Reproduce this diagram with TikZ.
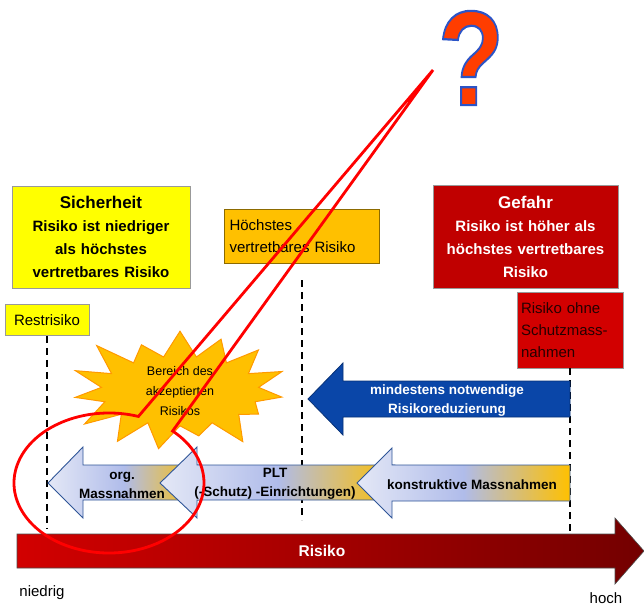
\documentclass[tikz,border=0pt]{standalone}
\usepackage{fontspec}
\setmainfont{Liberation Sans}
\usepackage{tikz}
\usetikzlibrary{positioning,calc,shapes.symbols,shapes.callouts}
\definecolor{safeyellow}{HTML}{FFFF00}
\definecolor{limitorange}{HTML}{FFC000}
\definecolor{dangerred}{HTML}{C00000}
\definecolor{plainred}{HTML}{D20000}
\definecolor{reduceblue}{HTML}{0A46A8}
\definecolor{arrowblue}{HTML}{2F5597}
\definecolor{paleblue}{HTML}{E4E8F6}
\definecolor{midblue}{HTML}{B0BCEA}
\definecolor{qorange}{HTML}{FF3D00}
\tikzset{
    every node/.style={font=\fontsize{15}{22}\selectfont},
    infobox/.style={draw=gray!80, line width=0.7pt, inner sep=0pt},
    safebox/.style={infobox, fill=safeyellow, align=center, text width=178pt, minimum height=102pt, font=\bfseries\fontsize{15}{23}\selectfont},
    limitbox/.style={infobox, draw=black!45!limitorange, fill=limitorange, align=left, text width=145pt, inner xsep=5pt, minimum height=54pt},
    dangerbox/.style={infobox, fill=dangerred, text=white, align=center, text width=185pt, minimum height=103pt, font=\bfseries\fontsize{15}{23}\selectfont},
    rawbox/.style={infobox, fill=plainred, text=black!85!red, align=left, text width=98pt, inner xsep=4pt, minimum height=76pt},
    limitline/.style={dashed, line width=1.6pt, dash pattern=on 7pt off 5pt},
    measure/.style={draw=arrowblue, line width=0.9pt, left color=paleblue, right color=limitorange, middle color=midblue},
    measuretext/.style={align=center, font=\bfseries\fontsize{13.5}{19}\selectfont},
    burst/.style={starburst, starburst points=15, starburst point height=38pt, random starburst=41, fill=limitorange, draw=orange!80!yellow, line width=1pt, minimum width=234pt, minimum height=104pt, inner sep=0pt, align=center, font=\fontsize{12.5}{20}\selectfont},
}

\begin{document}
\begin{tikzpicture}[x=1pt, y=-1pt]
  \useasboundingbox (0,0) rectangle (644,608);
  % boxes on top
  \node[safebox] (sicher) at (101,237) {{\fontsize{17}{23}\selectfont Sicherheit}\\Risiko ist niedriger\\als höchstes\\vertretbares Risiko};
  \node[infobox, fill=safeyellow, minimum width=84pt, minimum height=31pt] (rest) at (47,320) {Restrisiko};
  \node[limitbox] (hoechst) at (302,236) {Höchstes\\vertretbares Risiko};
  \node[dangerbox] (gefahr) at (525.5,236.5) {{\fontsize{17}{23}\selectfont Gefahr}\\Risiko ist höher als\\höchstes vertretbares\\Risiko};
  \node[rawbox] (ohne) at (570,330) {Risiko ohne\\Schutzmass-\\nahmen};

  % dashed limits
  \coordinate (restend) at (47,528);
  \coordinate (hoechststart) at (302,280);
  \coordinate (hoechstend) at (302,520);
  \coordinate (ohneend) at (570,540);
  \draw[limitline] (rest.south) -- (restend);
  \draw[limitline] (hoechststart) -- (hoechstend);
  \draw[limitline] (ohne.south) -- (ohneend);

  \node[burst] (accept) at (180,391) {Bereich des\\akzeptierten\\Risikos};

  % required reduction
  \path[fill=reduceblue, draw=reduceblue!70!black, line width=0.8pt]
    (308,399) -- (343,363) -- (343,381) -- (570,381) -- (570,417) -- (343,417) -- (343,435) -- cycle;
  \node[measuretext, text=white] (reduce) at (447,401) {mindestens notwendige\\Risikoreduzierung};

  % measures, right one last
  \shade[measure] (48,483) -- (83,447) -- (83,465) -- (200,465) -- (200,500) -- (83,500) -- (83,518) -- cycle;
  \shade[measure] (160,483) -- (197,447) -- (197,465) -- (395,465) -- (395,500) -- (197,500) -- (197,518) -- cycle;
  \shade[measure] (357,483) -- (392,448) -- (392,465) -- (570,465) -- (570,501) -- (392,501) -- (392,518) -- cycle;
  \node[measuretext] (org) at (122,485) {org.\\Massnahmen};
  \node[measuretext] (plt) at (275,484) {PLT\\(-Schutz) -Einrichtungen)};
  \node[measuretext] (konstr) at (472,485) {konstruktive Massnahmen};

  % risk axis
  \shade[left color=plainred, right color=dangerred!60!black, draw=gray!60!black, line width=0.6pt]
    (17,534) -- (615,534) -- (615,518) -- (644,551) -- (615,584) -- (615,568) -- (17,568) -- cycle;
  \node[text=white, font=\bfseries\fontsize{15.5}{18}\selectfont] (risiko) at (322,551) {Risiko};
  \node (niedrig) at (42,593) {niedrig};
  \node (hoch) at (606,598) {hoch};

  % question and callout
  \node[xscale=0.8, inner sep=0pt, font=\bfseries\fontsize{135}{135}\selectfont] (qmark) at (471,58)
    {\color{qorange}\special{pdf:literal direct 2 Tr 2.2 w 0.17 0.33 0.78 RG}?};
  \coordinate (qtip) at (433,70);
  \node[ellipse callout, draw=red, line width=2.8pt, minimum width=190pt, minimum height=140pt, inner sep=0pt,
        callout absolute pointer={(qtip)}, callout pointer arc=24] (focus) at (109,483) {};
\end{tikzpicture}
\end{document}
